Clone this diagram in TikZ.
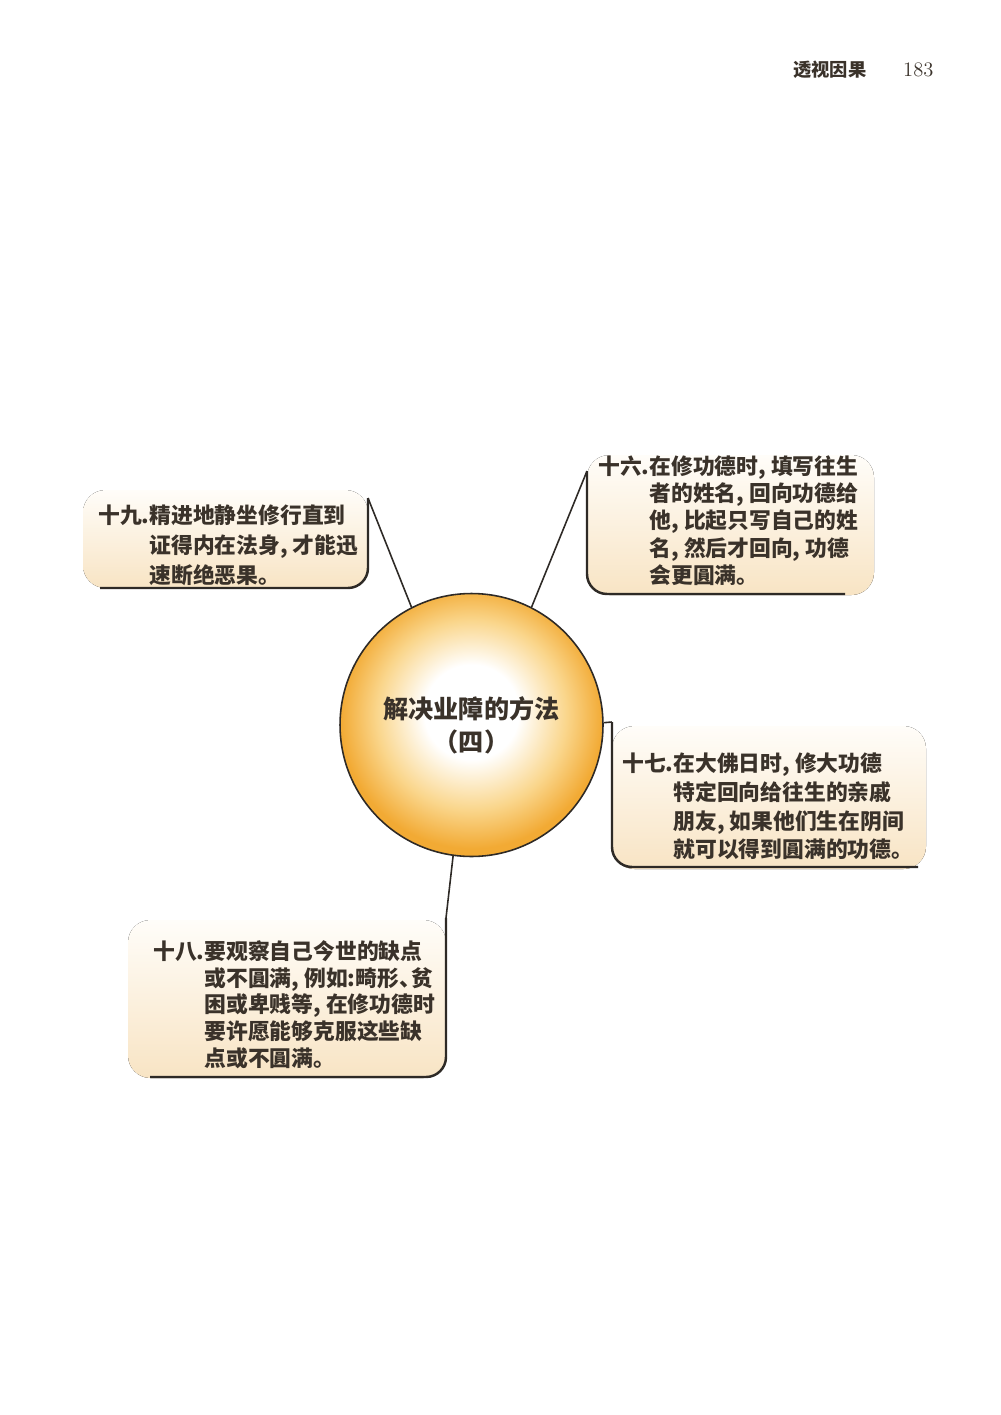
\documentclass[tikz,border=0pt]{standalone}
\usepackage{fontspec}
\newfontfamily\cjk{Noto Sans CJK SC}
\usetikzlibrary{positioning}
\definecolor{inkline}{RGB}{46,42,38}
\definecolor{inktext}{RGB}{58,50,42}
\definecolor{sunorange}{RGB}{242,170,52}
\definecolor{sunmid}{RGB}{250,214,140}
\definecolor{creamtop}{RGB}{255,253,249}
\definecolor{creambot}{RGB}{248,228,196}
\pgfdeclareradialshading{sunball}{\pgfpoint{0bp}{3bp}}{color(0bp)=(white); color(9bp)=(white); color(18bp)=(sunmid); color(25bp)=(sunorange); color(50bp)=(sunorange)}
\begin{document}
\begin{tikzpicture}[x=0.02cm, y=-0.02cm,
    hub/.style={circle, draw=inkline, line width=0.9pt, shade, shading=sunball,
        minimum size=5.26cm, inner sep=0pt, align=center, text=inktext,
        font=\cjk\bfseries\fontsize{14.3pt}{18.7pt}\selectfont},
    blurb/.style={anchor=base west, inner sep=0pt, text=inktext,
        font=\cjk\bfseries\fontsize{12.4pt}{#1}\selectfont},
    lead/.style={draw=inkline, line width=0.9pt},
    rim/.style={draw=inkline, line width=1.4pt, rounded corners=0.4cm},
    cream/.style={top color=creamtop, bottom color=creambot, draw=none, rounded corners=0.45cm}]
    \useasboundingbox (0,0) rectangle (1000,1415);
    \node[anchor=base west, text=inktext, font=\cjk\bfseries\fontsize{10.4pt}{12pt}\selectfont] (runhead) at (787,77) {透视因果};
    \node[anchor=base west, text=inktext, font=\fontsize{11.7pt}{14pt}\selectfont] (folio) at (897,77) {183};
    \fill[cream] (83,490) rectangle (368,588);
    \fill[cream] (587,455) rectangle (874,595);
    \fill[cream] (612,726) rectangle (926,869);
    \fill[cream] (128,920) rectangle (446,1078);
    \node[hub] (hub) at (471.5,725) {解决业障的方法\\（四）};
    \coordinate (t19) at (368,498);
    \coordinate (t16) at (587,471);
    \coordinate (t17) at (612,722);
    \coordinate (t18) at (446,918);
    \foreach \a/\t in {117/t19, 63/t16, 1/t17, 262/t18}
        \draw[lead] (hub.\a) -- (\t);
    \draw[rim] (t19) -- (368,588) -- (100,588);
    \draw[rim] (t16) -- (587,594) -- (845,594);
    \draw[rim] (t17) -- (612,867) -- (918,867);
    \draw[rim] (t18) -- (446,1077) -- (150,1077);
    \node[blurb=17pt] (n19) at (98,523.4) {\vtop{\hbox{十九.精进地静坐修行直到}
        \hbox{\phantom{十九.}证得内在法身, 才能迅}
        \hbox{\phantom{十九.}速断绝恶果。}}};
    \node[blurb=15.5pt] (n16) at (598,474.4) {\vtop{\hbox{十六.在修功德时, 填写往生}
        \hbox{\phantom{十六.}者的姓名, 回向功德给}
        \hbox{\phantom{十六.}他, 比起只写自己的姓}
        \hbox{\phantom{十六.}名, 然后才回向, 功德}
        \hbox{\phantom{十六.}会更圓满。}}};
    \node[blurb=16.4pt] (n17) at (622,771.4) {\vtop{\hbox{十七.在大佛日时, 修大功德}
        \hbox{\phantom{十七.}特定回向给往生的亲戚}
        \hbox{\phantom{十七.}朋友, 如果他们生在阴间}
        \hbox{\phantom{十七.}就可以得到圓满的功德。}}};
    \node[blurb=15.2pt] (n18) at (153,959.4) {\vtop{\hbox{十八.要观察自己今世的缺点}
        \hbox{\phantom{十八.}或不圓满, 例如:畸形、\kern-.45em 贫}
        \hbox{\phantom{十八.}困或卑贱等, 在修功德时}
        \hbox{\phantom{十八.}要许愿能够克服这些缺}
        \hbox{\phantom{十八.}点或不圓满。}}};
\end{tikzpicture}
\end{document}
